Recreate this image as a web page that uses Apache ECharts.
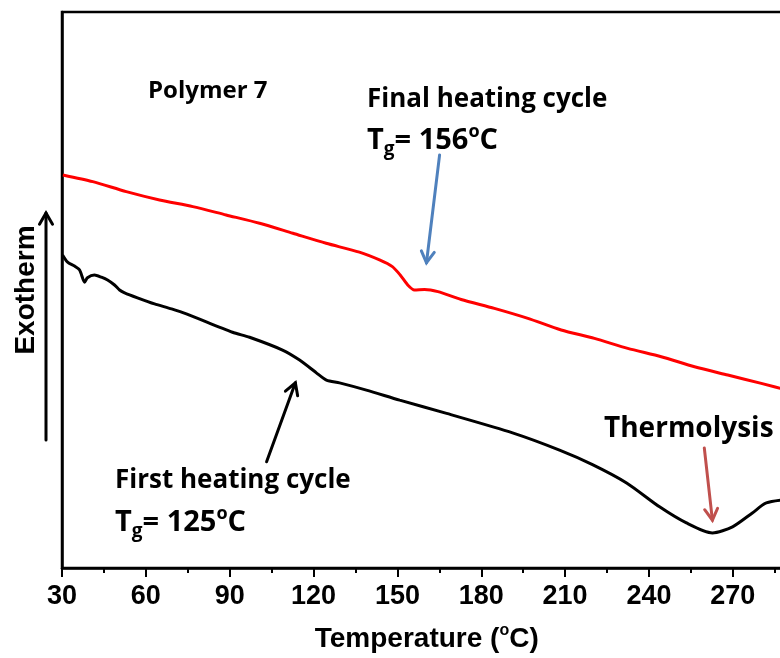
<!DOCTYPE html>
<html>
<head>
<meta charset="utf-8">
<script src="https://cdn.jsdelivr.net/npm/echarts@6/dist/echarts.min.js"></script>
<style>
  html, body { margin: 0; padding: 0; background: #ffffff; }
  #chart { width: 780px; height: 658px; }
</style>
</head>
<body>
<div id="chart"></div>
<script>
// DSC traces of Polymer 7 — heat flow in arbitrary units, exotherm up

// First heating cycle (black)
const firstT = [30.2, 32.0, 34.5, 36.3, 38.1, 39.1, 41.6, 44.1, 46.3, 48.8, 50.6, 52.4, 57.0, 63.1, 69.2,
  74.5, 91.0, 97.1, 108.9, 115.0, 121.0, 124.6, 129.3, 138.9, 150.8, 167.6, 191.2, 208.0, 219.8, 232.0,
  243.8, 253.4, 262.7, 269.9, 277.0, 282.0, 291.0];
const firstHeat = [5.63, 5.50, 5.43, 5.36, 5.14, 5.22, 5.27, 5.23, 5.18, 5.09, 5.00, 4.95, 4.86, 4.75, 4.66,
  4.57, 4.24, 4.15, 3.92, 3.74, 3.51, 3.38, 3.33, 3.20, 3.02, 2.78, 2.43, 2.12, 1.86, 1.53,
  1.10, 0.81, 0.63, 0.74, 0.99, 1.17, 1.24];

// Final heating cycle (red)
const finalT = [30.3, 41.0, 53.0, 64.9, 76.8, 88.7, 100.7, 112.6, 124.5, 136.4, 143.6, 148.2, 151.0,
  153.7, 156.1, 159.7, 164.5, 172.8, 184.7, 196.7, 208.6, 220.5, 232.4, 244.4, 256.3, 268.2, 280.2, 291.0];
const finalHeat = [7.07, 6.95, 6.77, 6.62, 6.50, 6.35, 6.20, 6.02, 5.84, 5.68, 5.54, 5.42, 5.27,
  5.09, 5.00, 5.01, 4.97, 4.83, 4.67, 4.49, 4.28, 4.13, 3.95, 3.80, 3.62, 3.47, 3.32, 3.18];

// Axis ranges
const tempRange = [30, 291];
const tempStep = 30;
const heatRange = [0, 10];

// Annotation arrows: [tail, tip] in data coordinates
const finalArrow = [[165.1, 7.43], [160.4, 5.49]];
const firstArrow = [[103.2, 1.91], [113.5, 3.33]];
const thermoArrow = [[259.8, 2.16], [262.7, 0.86]];

const pairs = (xs, ys) => xs.map((x, i) => [x, ys[i]]);

const labelFont = '"Open Sans", "Noto Sans", sans-serif';
const axisFont = '"Liberation Sans", Arial, sans-serif';

const tgRich = {
  t:   { fontFamily: labelFont, fontWeight: 'bold', fontSize: 29, lineHeight: 36, color: '#000' },
  sub: { fontFamily: labelFont, fontWeight: 'bold', fontSize: 19, lineHeight: 19, verticalAlign: 'bottom', color: '#000' },
  sup: { fontFamily: labelFont, fontWeight: 'bold', fontSize: 18, lineHeight: 19, verticalAlign: 'top', color: '#000' }
};

const chart = echarts.init(document.getElementById('chart'), null, { renderer: 'canvas' });

chart.setOption({
  backgroundColor: '#ffffff',
  animation: false,
  grid: {
    left: 62, top: 12, height: 556, width: (tempRange[1] - tempRange[0]) * 2.795,
    outerBoundsMode: 'none', containLabel: false,
    show: true, borderColor: '#000', borderWidth: 2.5, backgroundColor: 'transparent'
  },
  xAxis: {
    type: 'value',
    min: tempRange[0], max: tempRange[1], interval: tempStep,
    axisLine: { show: true, lineStyle: { color: '#000', width: 2.5 } },
    axisTick: { show: true, inside: false, length: 9, lineStyle: { color: '#000', width: 2 } },
    minorTick: { show: true, splitNumber: 2, length: 5, lineStyle: { color: '#000', width: 2 } },
    splitLine: { show: false },
    axisLabel: {
      margin: 15, color: '#000', fontFamily: axisFont, fontWeight: 'bold', fontSize: 27,
      showMaxLabel: false
    },
    name: '{a|Temperature (}{s|o}{a|C)}',
    nameLocation: 'middle',
    nameGap: 55,
    nameTextStyle: {
      rich: {
        a: { fontFamily: axisFont, fontWeight: 'bold', fontSize: 28, lineHeight: 32, color: '#000' },
        s: { fontFamily: axisFont, fontWeight: 'bold', fontSize: 16, lineHeight: 16, verticalAlign: 'top', color: '#000' }
      }
    }
  },
  yAxis: {
    type: 'value',
    min: heatRange[0], max: heatRange[1],
    axisLine: { show: true, lineStyle: { color: '#000', width: 2.5 } },
    axisTick: { show: false },
    axisLabel: { show: false },
    splitLine: { show: false },
    name: 'Exotherm',
    nameLocation: 'middle',
    nameRotate: 90,
    nameGap: 22,
    nameTextStyle: { fontFamily: axisFont, fontWeight: 'bold', fontSize: 28, color: '#000' }
  },
  series: [
    {
      name: 'First heating cycle', type: 'line', data: pairs(firstT, firstHeat),
      showSymbol: false, smooth: 0.25, clip: true,
      lineStyle: { color: '#000000', width: 3 }
    },
    {
      name: 'Final heating cycle', type: 'line', data: pairs(finalT, finalHeat),
      showSymbol: false, smooth: 0.25, clip: true,
      lineStyle: { color: '#ff0000', width: 3 }
    }
  ]
});

// Arrow with an open V head, drawn between two pixel points
function arrow(a, b, color) {
  const ang = Math.atan2(b[1] - a[1], b[0] - a[0]);
  const len = 13, spread = Math.PI / 6;
  const h1 = [b[0] - len * Math.cos(ang - spread), b[1] - len * Math.sin(ang - spread)];
  const h2 = [b[0] - len * Math.cos(ang + spread), b[1] - len * Math.sin(ang + spread)];
  return [
    { type: 'line', silent: true, shape: { x1: a[0], y1: a[1], x2: b[0], y2: b[1] },
      style: { stroke: color, lineWidth: 3, lineCap: 'round' } },
    { type: 'polyline', silent: true, shape: { points: [h1, b, h2] },
      style: { stroke: color, lineWidth: 3, fill: null, lineCap: 'round', lineJoin: 'miter' } }
  ];
}
const px = (p) => chart.convertToPixel({ gridIndex: 0 }, p);
const dataArrow = (pair, color) => arrow(px(pair[0]), px(pair[1]), color);

function label(text, x, y, rich, size) {
  return {
    type: 'text', silent: true, x: x, y: y,
    style: rich
      ? { text: text, rich: rich, align: 'left', verticalAlign: 'middle' }
      : { text: text, fontFamily: labelFont, fontWeight: 'bold', fontSize: size, fill: '#000',
          align: 'left', verticalAlign: 'middle' }
  };
}

chart.setOption({
  graphic: [
    ...arrow([46, 440], [46, 213], '#000000'),
    ...dataArrow(finalArrow, '#4f81bd'),
    ...dataArrow(firstArrow, '#000000'),
    ...dataArrow(thermoArrow, '#c0504d'),
    label('Polymer 7', 148, 91, null, 24),
    label('Final heating cycle', 367, 100, null, 26),
    label('{t|T}{sub|g}{t|= 156}{sup|o}{t|C}', 367, 141, tgRich),
    label('First heating cycle', 115, 481, null, 26),
    label('{t|T}{sub|g}{t|= 125}{sup|o}{t|C}', 115, 523, tgRich),
    label('Thermolysis', 604, 429, null, 28)
  ]
});
</script>
</body>
</html>
